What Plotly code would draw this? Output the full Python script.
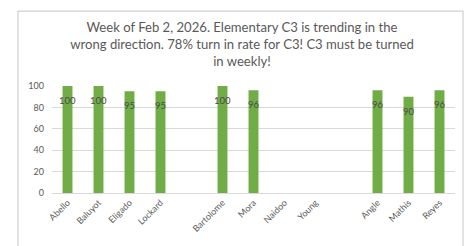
import plotly.graph_objects as go

categories = ["Abello", "Baluyot", "Eligado", "Lockard", "", "Bartolome", "Mora",
              "Naidoo", "Young", "", "Angle", "Mathis", "Reyes"]
turn_in_rate = [100, 100, 95, 95, None, 100, 96, None, None, None, 96, 90, 96]
y_ticks = [0, 20, 40, 60, 80, 100]
title_text = ("Week of Feb 2, 2026. Elementary C3 is trending in the<br>"
              "wrong direction. 78% turn in rate for C3! C3 must be turned<br>"
              "in weekly!")

x_idx = list(range(len(categories)))
FONT = "Lato"
GRAY = "#595959"

fig = go.Figure()
fig.add_trace(go.Bar(
    x=x_idx, y=turn_in_rate, width=0.32,
    marker=dict(color="#70AD47", line=dict(width=0)),
    hoverinfo="skip",
))

annotations = []
for xi, v in zip(x_idx, turn_in_rate):
    if v is None:
        continue
    annotations.append(dict(
        x=xi, y=v, xref="x", yref="y", text=str(v), showarrow=False,
        yanchor="top", yshift=-7,
        font=dict(family=FONT, size=9.5, color="#4a4a4a"),
    ))

fig.update_layout(
    width=468, height=246,
    margin=dict(l=52, r=13, t=86, b=50),
    paper_bgcolor="white", plot_bgcolor="white",
    showlegend=False,
    title=dict(text=title_text, x=242/468, xanchor="center", xref="container",
               y=1 - 32/246, yanchor="top", yref="container",
               font=dict(family=FONT, size=13.1, color=GRAY)),
    xaxis=dict(
        range=[-0.5, len(categories) - 0.5],
        tickmode="array", tickvals=x_idx, ticktext=categories,
        tickangle=-45, tickfont=dict(family=FONT, size=9, color=GRAY),
        showgrid=False, zeroline=False,
        showline=True, linecolor="#d9d9d9", linewidth=1,
        ticks="", fixedrange=True,
    ),
    yaxis=dict(
        range=[0, 100], tickmode="array", tickvals=y_ticks,
        tickfont=dict(family=FONT, size=9, color=GRAY),
        showgrid=True, gridcolor="#d9d9d9", gridwidth=1,
        zeroline=False, showline=False, ticks="",
        ticklabelstandoff=7, fixedrange=True,
    ),
    annotations=annotations,
    shapes=[dict(type="rect", xref="paper", yref="paper",
                 x0=(18 - 52) / 403, x1=(463 - 52) / 403,
                 y0=(196 - 252) / 110, y1=(196 - 9) / 110,
                 line=dict(color="#cfcfcf", width=1.2), fillcolor="rgba(0,0,0,0)",
                 layer="above")],
)

fig.write_html("out.html", config={"displayModeBar": False},
               post_script="document.body.style.margin='0';document.body.style.overflow='hidden';")
